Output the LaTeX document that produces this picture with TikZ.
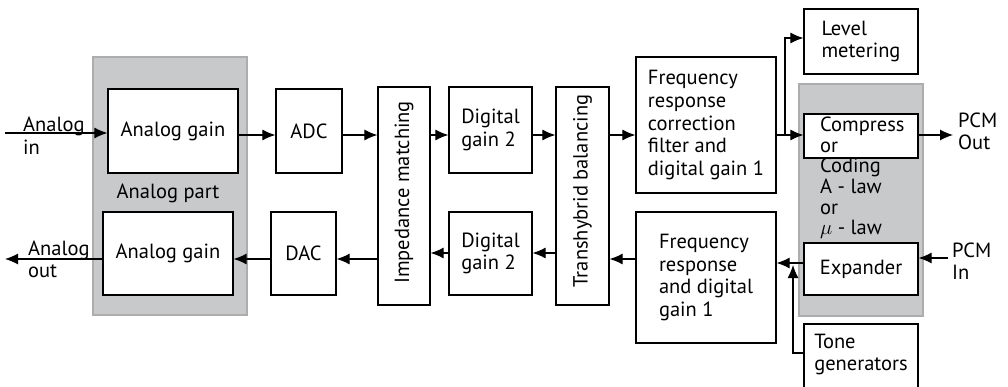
\documentclass[tikz,border=0pt]{standalone}
\usepackage{fontspec}
\setmainfont{PT Sans}
\usetikzlibrary{arrows.meta,calc}
\definecolor{grayfill}{HTML}{C8C9CB}
\definecolor{grayline}{HTML}{ADADAD}
\begin{document}
\begin{tikzpicture}[x=1pt,y=-1pt,
  every node/.style={font=\fontsize{20.5}{22.5}\selectfont},
  blk/.style={draw,line width=1.2pt,fill=white,inner sep=0pt,align=left},
  zone/.style={fill=grayfill,draw=grayline,line width=1.5pt},
  lbl/.style={inner sep=0pt,align=left},
  arr/.style={line width=1.1pt,-{Latex[length=13pt,width=11pt]}},
  ln/.style={line width=1.1pt}]
\clip (0,0) rectangle (1008,387);
% gray zones
\draw[zone] (93,57) rectangle (247,315);
\draw[zone] (799,84) rectangle (923,316);
% row coordinates
\coordinate (yT) at (0,135);
\coordinate (yB) at (0,259);
\coordinate (yBd) at (0,253);
\coordinate (yE) at (0,263);
\coordinate (yLM) at (0,38);
\coordinate (ytg) at (0,353);
\coordinate (ain) at (5,133);
\coordinate (aout) at (5,259);
\coordinate (pout) at (953,135);
\coordinate (pin) at (948,258);
\coordinate (br) at (785,135);
\coordinate (tjoin) at (793,265);
% boxes
\node[blk,minimum width=130pt,minimum height=84pt] (ag1) at (173,131) {Analog gain};
\node[blk,minimum width=130pt,minimum height=83pt] (ag2) at (168,253.5) {Analog gain};
\node[blk,minimum width=66pt,minimum height=84pt] (adc) at (309,131) {ADC};
\node[blk,minimum width=65pt,minimum height=83pt] (dac) at (303.5,253.5) {DAC};
\node[blk,minimum width=52pt,minimum height=218pt] (imp) at (404,196) {};
\node[lbl,rotate=90] (impt) at (404,192.5) {Impedance matching};
\node[blk,minimum width=83pt,minimum height=86pt] (dg1) at (490.5,130) {Digital\\gain 2};
\node[blk,minimum width=83pt,minimum height=83pt] (dg2) at (490.5,253.5) {Digital\\gain 2};
\node[blk,minimum width=53pt,minimum height=218pt] (tb) at (582.5,196) {};
\node[lbl,rotate=90] (tbt) at (582.5,191) {Transhybrid balancing};
\node[blk,minimum width=140pt,minimum height=136pt] (fr1) at (706,125) {Frequency\\response\\correction\\filter and\\digital gain 1};
\node[blk,minimum width=140pt,minimum height=131pt] (fr2) at (706,277.5) {Frequency\\response\\and digital\\gain 1};
\node[blk,minimum width=114pt,minimum height=65pt] (lm) at (861,41.5) {Level\\metering};
\node[blk,minimum width=114pt,minimum height=44pt] (comp) at (861,136) {};
\node[lbl,anchor=north west,font=\fontsize{20.5}{20.6}\selectfont] (compt) at (820,117) {Compress\\or\\Coding\\A - law\\or\\$\mu$ - law};
\node[blk,minimum width=114pt,minimum height=52pt] (exp) at (861,269) {Expander};
\node[blk,minimum width=114pt,minimum height=72pt] (tone) at (861,360) {};
\node[lbl] (tonet) at (861,354.5) {Tone\\generators};
% labels
\node[lbl,anchor=west] (ainl) at (23,135.5) {Analog\\in};
\node[lbl,anchor=west] (aoutl) at (28,259.5) {Analog\\out};
\node[lbl] (apart) at (168,193) {Analog part};
\node[lbl,anchor=west] (poutl) at (958,131.5) {PCM\\Out};
\node[lbl,anchor=west] (pinl) at (952,261) {PCM\\In};
% top row connectors
\draw[arr] (ain) -- (ag1.west |- ain);
\draw[arr] (ag1.east |- yT) -- (adc.west |- yT);
\draw[arr] (adc.east |- yT) -- (imp.west |- yT);
\draw[arr] (imp.east |- yT) -- (dg1.west |- yT);
\draw[arr] (dg1.east |- yT) -- (tb.west |- yT);
\draw[arr] (tb.east |- yT) -- (fr1.west |- yT);
\draw[arr] (fr1.east |- yT) -- (comp.west |- yT);
\draw[arr] (br) |- (lm.west |- yLM);
\draw[arr] (comp.east |- yT) -- (pout);
% bottom row connectors
\draw[arr] (pin) -- (exp.east |- pin);
\draw[arr] (exp.west |- yE) -- (fr2.east |- yE);
\draw[arr] (tone.west |- ytg) -| (tjoin);
\draw[arr] (fr2.west |- yB) -- (tb.east |- yB);
\draw[arr] (tb.west |- yBd) -- (dg2.east |- yBd);
\draw[arr] (dg2.west |- yBd) -- (imp.east |- yBd);
\draw[arr] (imp.west |- yB) -- (dac.east |- yB);
\draw[arr] (dac.west |- yB) -- (ag2.east |- yB);
\draw[arr] (ag2.west |- yB) -- (aout);
\end{tikzpicture}
\end{document}
